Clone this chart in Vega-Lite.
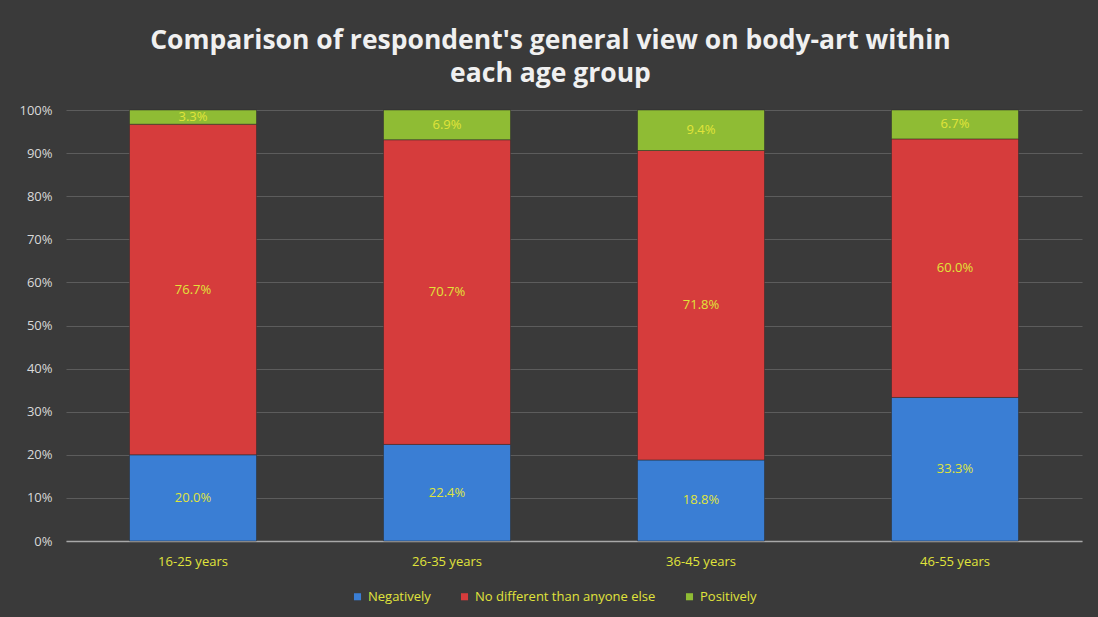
{
  "$schema": "https://vega.github.io/schema/vega-lite/v6.json",
  "autosize": {"type": "none"},
  "width": 1016,
  "height": 431,
  "padding": {"left": 66, "top": 110, "right": 16, "bottom": 76},
  "background": "#3a3a3a",
  "title": {
    "text": ["Comparison of respondent's general view on body-art within", "each age group"],
    "anchor": "middle",
    "frame": "bounds",
    "offset": 17,
    "font": "Open Sans",
    "fontWeight": "bold",
    "fontSize": 26.5,
    "lineHeight": 33,
    "color": "#f0f0f0"
  },
  "data": {
    "values": [
      {"age": "16-25 years", "view": "Negatively", "value": 0.200},
      {"age": "16-25 years", "view": "No different than anyone else", "value": 0.767},
      {"age": "16-25 years", "view": "Positively", "value": 0.033},
      {"age": "26-35 years", "view": "Negatively", "value": 0.224},
      {"age": "26-35 years", "view": "No different than anyone else", "value": 0.707},
      {"age": "26-35 years", "view": "Positively", "value": 0.069},
      {"age": "36-45 years", "view": "Negatively", "value": 0.188},
      {"age": "36-45 years", "view": "No different than anyone else", "value": 0.718},
      {"age": "36-45 years", "view": "Positively", "value": 0.094},
      {"age": "46-55 years", "view": "Negatively", "value": 0.333},
      {"age": "46-55 years", "view": "No different than anyone else", "value": 0.600},
      {"age": "46-55 years", "view": "Positively", "value": 0.067}
    ]
  },
  "transform": [
    {"stack": "value", "groupby": ["age"], "sort": [{"field": "view", "order": "ascending"}], "as": ["y0", "y1"]},
    {"calculate": "(datum.y0 + datum.y1) / 2", "as": "mid"}
  ],
  "encoding": {
    "x": {
      "field": "age", "type": "nominal", "title": null,
      "scale": {"paddingInner": 0.5, "paddingOuter": 0.25},
      "axis": {
        "labelAngle": 0, "labelColor": "#e0e43a", "labelFont": "Open Sans", "labelFontSize": 13,
        "labelPadding": 14, "ticks": false, "domainColor": "#a8a8a8", "domainWidth": 1.5, "grid": false
      }
    }
  },
  "layer": [
    {
      "mark": {"type": "bar", "stroke": "#2a2a2a", "strokeWidth": 1, "strokeOpacity": 0.5},
      "encoding": {
        "y": {
          "field": "y0", "type": "quantitative", "title": null,
          "scale": {"domain": [0, 1]},
          "axis": {
            "format": ".0%", "values": [0,0.1,0.2,0.3,0.4,0.5,0.6,0.7,0.8,0.9,1],
            "labelOverlap": false,
            "labelColor": "#d9d9d9", "labelFont": "Open Sans", "labelFontSize": 13,
            "labelPadding": 14, "ticks": false, "domain": false,
            "gridColor": "#5c5c5c", "gridWidth": 1
          }
        },
        "y2": {"field": "y1"},
        "color": {
          "field": "view", "type": "nominal", "title": null,
          "scale": {
            "domain": ["Negatively", "No different than anyone else", "Positively"],
            "range": ["#3a7ed4", "#d63c3c", "#8fbc34"]
          },
          "legend": {
            "orient": "none", "direction": "horizontal", "legendX": 285, "legendY": 480,
            "symbolType": "square", "symbolSize": 50, "symbolStrokeWidth": 0,
            "labelColor": "#e0e43a", "labelFont": "Open Sans", "labelFontSize": 13,
            "labelLimit": 400, "columnPadding": 27, "labelOffset": 4
          }
        }
      }
    },
    {
      "mark": {"type": "text", "font": "Open Sans", "fontSize": 13, "color": "#e0e43a", "baseline": "middle"},
      "encoding": {
        "y": {"field": "mid", "type": "quantitative"},
        "text": {"field": "value", "type": "quantitative", "format": ".1%"}
      }
    }
  ],
  "config": {"view": {"stroke": null}}
}
